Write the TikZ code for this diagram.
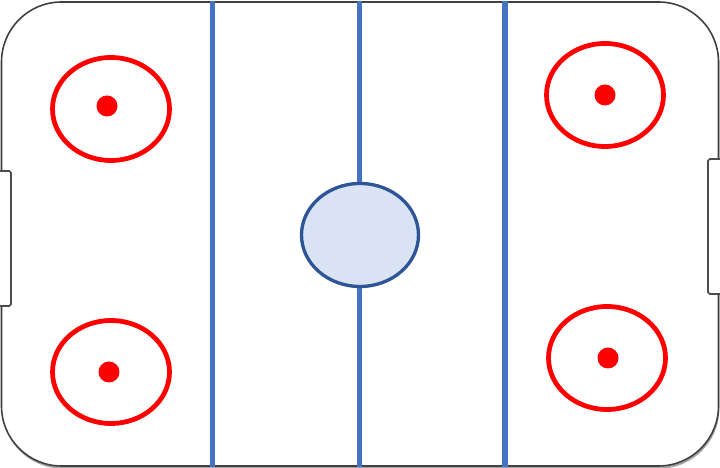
\documentclass[tikz,border=0pt]{standalone}
\usetikzlibrary{shapes.geometric, shadows}

\definecolor{lineblue}{RGB}{68,114,196}
\definecolor{rimblue}{RGB}{47,85,151}
\definecolor{iceblue}{RGB}{218,227,243}

\begin{document}
\begin{tikzpicture}[
    rinkbox/.style={rectangle, draw=black!75, line width=0.9pt, fill=white, rounded corners=1.2cm, minimum width=14.34cm, minimum height=9.28cm, drop shadow={shadow xshift=0.5pt, shadow yshift=-1.5pt, opacity=0.7}},
    goalbox/.style={rectangle, draw=black!70, line width=0.9pt, fill=white, rounded corners=1pt, minimum width=0.34cm, minimum height=2.7cm},
    blueline/.style={draw=lineblue, line width=2.9pt},
    faceoff/.style={ellipse, draw=red, line width=2.7pt, minimum width=2.34cm, minimum height=2.06cm, inner sep=0pt},
    spot/.style={circle, fill=red, minimum size=0.42cm, inner sep=0pt},
    centre/.style={ellipse, draw=rimblue, fill=iceblue, line width=1.9pt, minimum width=2.34cm, minimum height=2.06cm, inner sep=0pt}
]
\useasboundingbox (0,0) rectangle (14.4,9.36);

\node[rinkbox] (rink) at (7.2,4.68) {};

\node[goalbox] (goalL) at (0.05,4.59) {};
\node[goalbox] (goalR) at (14.33,4.83) {};

\coordinate (bl) at (4.25,0);
\coordinate (cl) at (7.19,0);
\coordinate (br) at (10.1,0);
\draw[blueline] (bl |- rink.south) -- (bl |- rink.north);
\draw[blueline] (cl |- rink.south) -- (cl |- rink.north);
\draw[blueline] (br |- rink.south) -- (br |- rink.north);

\node[centre] (mid) at (7.2,4.66) {};

\node[faceoff] (lt) at (2.22,7.18) {};
\node[faceoff] (lb) at (2.22,1.92) {};
\node[faceoff] (rt) at (12.1,7.46) {};
\node[faceoff] (rb) at (12.14,2.2) {};

\node[spot] (ltdot) at (2.14,7.24) {};
\node[spot] (lbdot) at (2.18,1.92) {};
\node[spot] (rtdot) at (12.1,7.46) {};
\node[spot] (rbdot) at (12.16,2.2) {};
\end{tikzpicture}
\end{document}
